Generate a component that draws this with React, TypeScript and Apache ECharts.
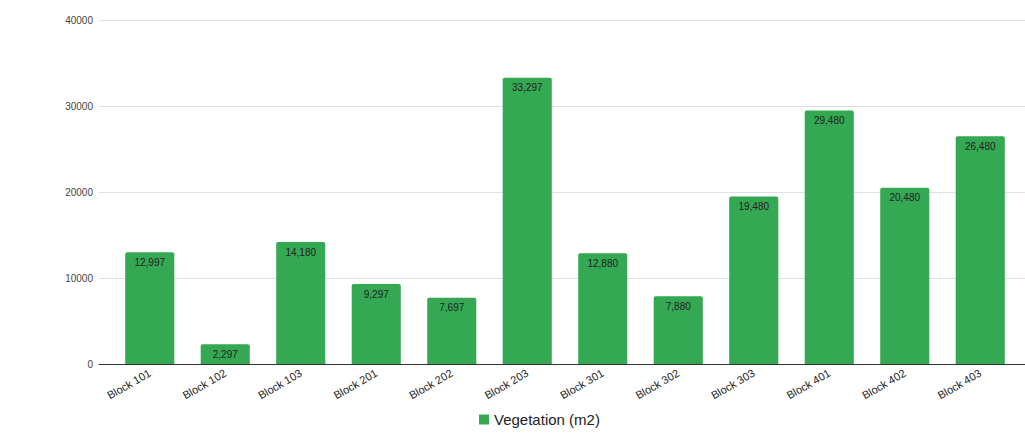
import React, { useEffect, useRef } from "react";
import * as echarts from "echarts";

const categories = ["Block 101", "Block 102", "Block 103", "Block 201", "Block 202", "Block 203", "Block 301", "Block 302", "Block 303", "Block 401", "Block 402", "Block 403"];
const vegetation = [12997, 2297, 14180, 9297, 7697, 33297, 12880, 7880, 19480, 29480, 20480, 26480];
const seriesName = "Vegetation (m2)";

const FONT = "'Liberation Sans', Arial, sans-serif";

export default function App() {
  const ref = useRef<HTMLDivElement>(null);
  useEffect(() => {
    if (!ref.current) return;
    const chart = echarts.init(ref.current, null, { renderer: "svg" });
    chart.setOption({
      animation: false,
      textStyle: { fontFamily: FONT },
      legend: {
        bottom: 4,
        left: 474,
        icon: "rect",
        itemWidth: 10,
        itemHeight: 10,
        itemGap: 6,
        textStyle: { fontSize: 15, color: "#222", fontFamily: FONT },
        data: [seriesName],
      },
      grid: [
        { left: 112, right: 7, top: 20, bottom: 72 },
        { left: 99, right: 0, top: 20, bottom: 72 },
      ],
      xAxis: [
        {
          type: "category",
          gridIndex: 0,
          data: categories,
          axisLine: { show: false },
          axisTick: { show: false },
          axisLabel: { rotate: 30, fontSize: 11, color: "#222", margin: 8, fontFamily: FONT },
        },
        {
          type: "category",
          gridIndex: 1,
          data: [""],
          axisLine: { show: true, lineStyle: { color: "#333", width: 1 } },
          axisTick: { show: false },
          axisLabel: { show: false },
        },
      ],
      yAxis: [
        {
          type: "value",
          gridIndex: 0,
          min: 0,
          max: 40000,
          interval: 10000,
          show: false,
          splitLine: { show: false },
        },
        {
          type: "value",
          gridIndex: 1,
          min: 0,
          max: 40000,
          interval: 10000,
          axisLine: { show: false },
          axisTick: { show: false },
          axisLabel: { fontSize: 10, color: "#444", margin: 6, fontFamily: FONT, formatter: (v: number) => String(v) },
          splitLine: { lineStyle: { color: "#e0e0e0", width: 1 } },
        },
      ],
      series: [
        {
          name: seriesName,
          type: "bar",
          xAxisIndex: 0,
          yAxisIndex: 0,
          data: vegetation,
          barCategoryGap: "35%",
          z: 3,
          itemStyle: { color: "#34a853", borderRadius: [2, 2, 0, 0] },
          label: {
            show: true,
            position: "insideTop",
            distance: 5,
            fontSize: 10,
            color: "#222",
            fontFamily: FONT,
            formatter: (p: any) => Number(p.value).toLocaleString("en-US"),
          },
        },
      ],
    });
    return () => chart.dispose();
  }, []);
  return <div ref={ref} style={{ width: 1025, height: 436, position: "absolute", left: 0, top: 0, background: "#fff" }} />;
}
